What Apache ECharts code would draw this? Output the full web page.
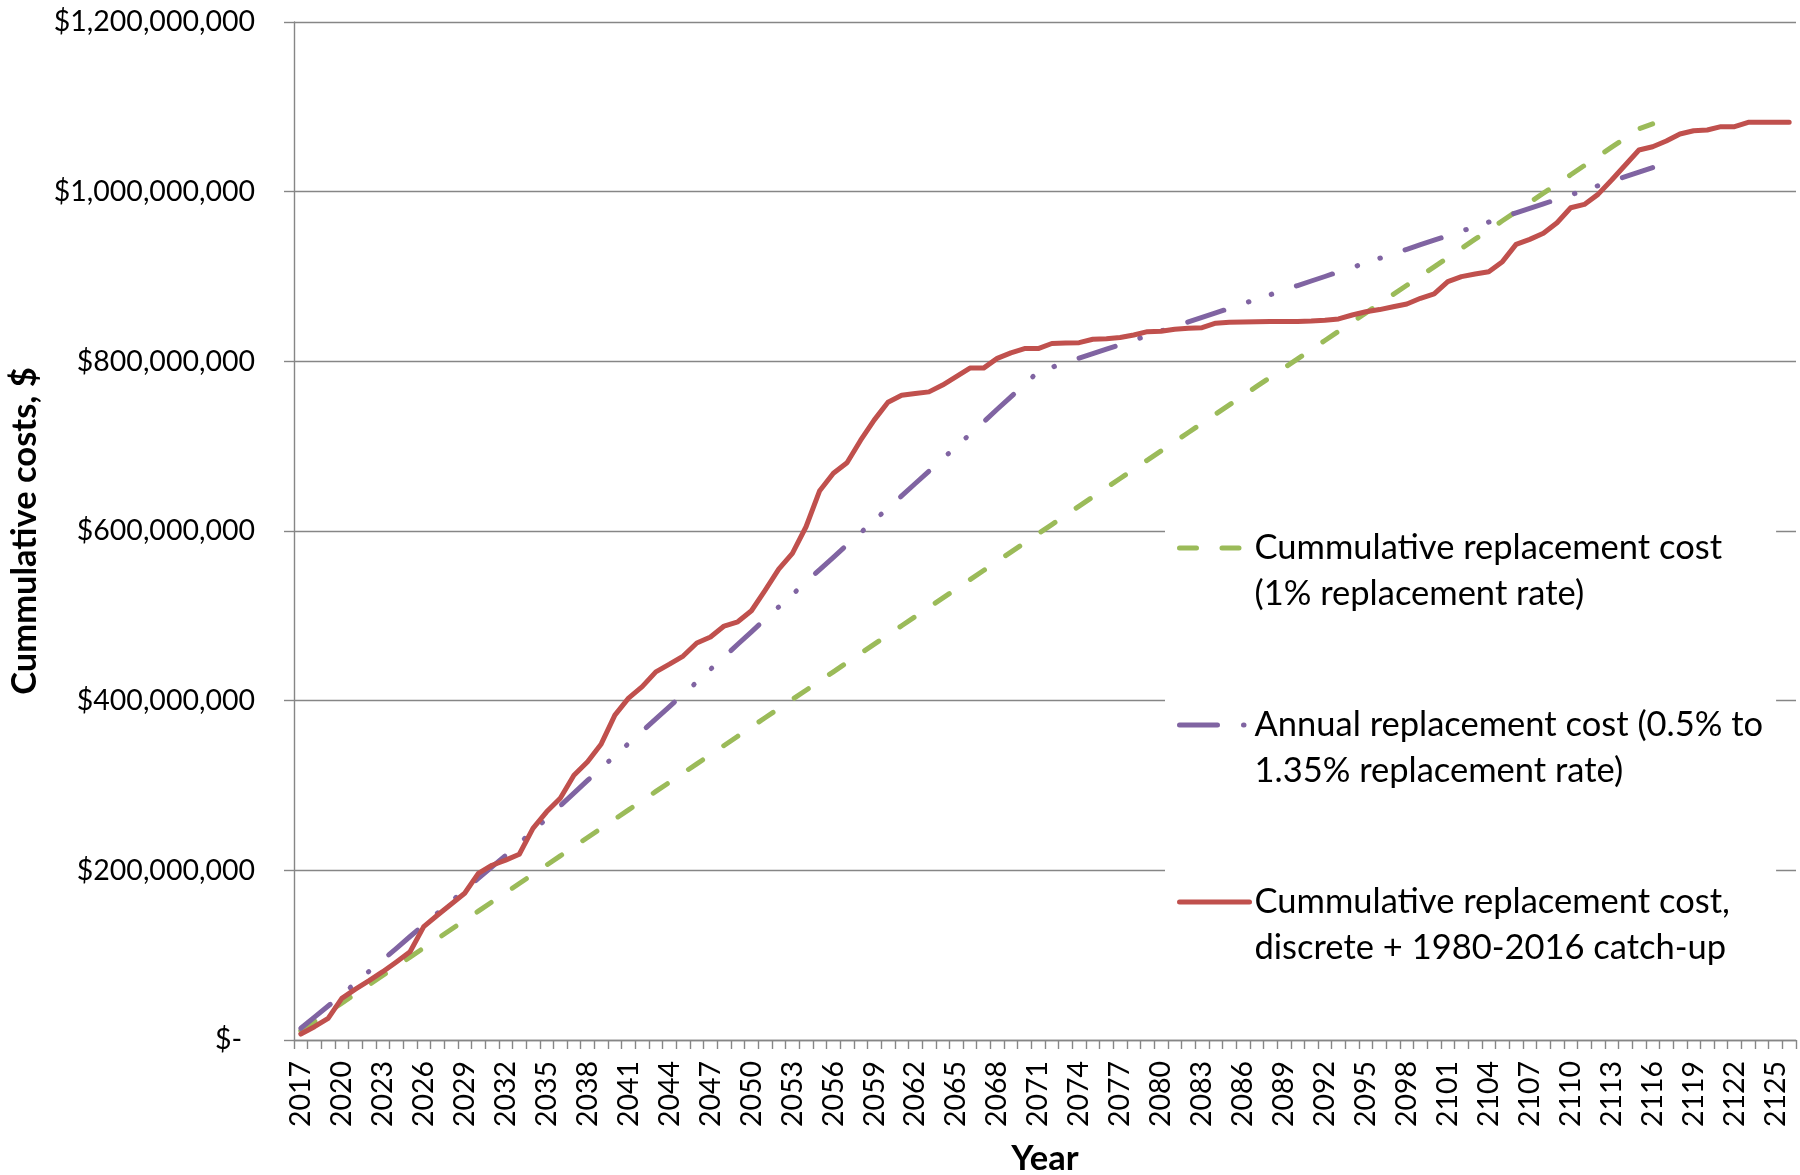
<!DOCTYPE html>
<html>
<head>
<meta charset="utf-8">
<script src="https://cdn.jsdelivr.net/npm/echarts@6/dist/echarts.min.js"></script>
<style>
  html, body { margin: 0; padding: 0; background: #fff; }
  #chart { width: 1800px; height: 1175px; }
</style>
</head>
<body>
<div id="chart"></div>
<script>
// Categories: years
const years = ['2017','2018','2019','2020','2021','2022','2023','2024','2025','2026',
  '2027','2028','2029','2030','2031','2032','2033','2034','2035','2036',
  '2037','2038','2039','2040','2041','2042','2043','2044','2045','2046',
  '2047','2048','2049','2050','2051','2052','2053','2054','2055','2056',
  '2057','2058','2059','2060','2061','2062','2063','2064','2065','2066',
  '2067','2068','2069','2070','2071','2072','2073','2074','2075','2076',
  '2077','2078','2079','2080','2081','2082','2083','2084','2085','2086',
  '2087','2088','2089','2090','2091','2092','2093','2094','2095','2096',
  '2097','2098','2099','2100','2101','2102','2103','2104','2105','2106',
  '2107','2108','2109','2110','2111','2112','2113','2114','2115','2116',
  '2117','2118','2119','2120','2121','2122','2123','2124','2125','2126'];

// Series names (legend text, two lines each)
const seriesNames = [
  'Cummulative replacement cost\n(1% replacement rate)',
  'Annual replacement cost (0.5% to\n1.35% replacement rate)',
  'Cummulative replacement cost,\ndiscrete + 1980-2016 catch-up'
];

// Values in millions of dollars
// Cummulative replacement cost (1% replacement rate), 2017-2116
const greenVals = [10.9,21.7,32.6,43.4,54.3,65.1,76.0,86.8,97.7,108.5,
  119.4,130.2,141.1,151.9,162.8,173.6,184.5,195.3,206.2,217.0,
  227.9,238.7,249.6,260.4,271.3,282.1,293.0,303.8,314.7,325.5,
  336.4,347.2,358.1,368.9,379.8,390.6,401.5,412.3,423.2,434.0,
  444.9,455.7,466.6,477.4,488.3,499.1,510.0,520.8,531.7,542.5,
  553.4,564.2,575.1,585.9,596.8,607.6,618.5,629.3,640.2,651.0,
  661.9,672.7,683.6,694.4,705.3,716.1,727.0,737.8,748.7,759.5,
  770.4,781.2,792.1,802.9,813.8,824.6,835.5,846.3,857.2,868.0,
  878.9,889.7,900.6,911.4,922.3,933.1,944.0,954.8,965.7,976.5,
  987.4,998.2,1009.1,1019.9,1030.8,1041.6,1052.5,1063.3,1074.2,1080.0];

// Annual replacement cost (0.5% to 1.35% replacement rate), 2017-2116
const purpleVals = [13.8,27,40,53.5,67,81,94.5,108,122,135.7,
  149.5,163,177,190.5,204,217.6,232,246,261,276,
  291,306,320.5,335,349.5,364,378.5,393,407.5,422,
  437,451.5,466.5,481,496,510.5,525,540,554.5,569,
  583.5,598,612.5,627,641.5,656,670.5,685,699.5,714,
  728.5,743.5,758,773,787.6,793,798.3,803.7,809,814.4,
  819.7,825,830.4,835.8,841,846.5,851.8,857,862.5,868,
  873.3,878.6,884,889.3,894.7,900,905.4,910.7,916,921.4,
  926.8,932,937.5,942.8,948,953.5,958.9,964.2,969.5,975,
  980.3,985.6,991,996.3,1001.6,1007,1012.4,1017.7,1023,1028.4];

// Cummulative replacement cost, discrete + 1980-2016 catch-up, 2017-2126
const redVals = [7,15.7,25.5,49,60,70,80.5,92,104,133.6,
  147,160,173,196.5,206,212,219,249.5,269,285,
  312,328,349,383,403,416.5,434,443,452.6,468,
  475,488,493,506,530,555,573.6,605,647.5,668,
  680.5,707,731,751.7,760,762,764,772,782,792,
  792,803.5,810,815,815,821,821.5,822,826,826.5,
  828,831,835,835.5,837.8,839,839.7,845,846,846.3,
  846.7,847,847,847,847.5,848.5,850,854.6,858.5,861,
  864.4,867.6,874.3,879.4,893.9,899.8,903,905.7,917.5,937.9,
  943.8,950.9,963.4,981,985,996.8,1013.7,1031.4,1049.1,1053,
  1059.7,1068,1071.8,1072.7,1076.6,1076.6,1081.7,1081.7,1081.7,1081.7];

// Y axis scale (millions)
const yMin = 0, yMax = 1200, yStep = 200;

const colors = ['#9BBB59', '#8064A2', '#C0504D'];
const LW = 5;
const dashes = [[17, 25.5], [38, 26, 0.5, 23.5, 0.5, 26], 'solid'];
const FONT = 'Lato, "Liberation Sans", sans-serif';
const GRAY = '#868686';

function fmtDollars(v) {
  if (v === 0) return '{z|$-}';
  return '$' + String(Math.round(v * 1000000)).replace(/\B(?=(\d{3})+(?!\d))/g, ',');
}

const chart = echarts.init(document.getElementById('chart'), null, { renderer: 'canvas' });
const option = {
  animation: false,
  backgroundColor: '#ffffff',
  textStyle: { fontFamily: FONT, color: '#000' },
  grid: { left: 294, right: 4, top: 22, bottom: 135, containLabel: false, outerBoundsMode: 'none' },
  xAxis: {
    type: 'category',
    data: years,
    boundaryGap: true,
    axisLine: { show: true, lineStyle: { color: GRAY, width: 1.4 } },
    axisTick: { show: true, interval: 0, length: 9, lineStyle: { color: GRAY, width: 1.4 } },
    axisLabel: { interval: 2, rotate: 90, margin: 21, fontSize: 28.5, color: '#000', fontFamily: FONT },
    splitLine: { show: false },
    name: 'Year',
    nameLocation: 'middle',
    nameGap: 101,
    nameTextStyle: { fontSize: 34.5, fontWeight: 'bold', color: '#000', fontFamily: FONT }
  },
  yAxis: {
    type: 'value',
    min: yMin, max: yMax, interval: yStep,
    axisLine: { show: true, lineStyle: { color: GRAY, width: 1.4 } },
    axisTick: { show: true, length: 10, lineStyle: { color: GRAY, width: 1.4 } },
    splitLine: { show: true, lineStyle: { color: GRAY, width: 1.4 } },
    axisLabel: {
      margin: 39, fontSize: 28.5, color: '#000', fontFamily: FONT,
      formatter: fmtDollars,
      rich: { z: { padding: [0, 13, 0, 0], fontSize: 28.5, fontFamily: FONT, color: '#000' } }
    },
    name: 'Cummulative costs, $',
    nameLocation: 'middle',
    nameGap: 243,
    nameTextStyle: { fontSize: 34.5, fontWeight: 'bold', color: '#000', fontFamily: FONT }
  },
  legend: {
    orient: 'vertical',
    left: 1165,
    top: 465,
    padding: [14, 13, 10, 12],
    backgroundColor: '#ffffff',
    itemWidth: 70,
    itemHeight: 14,
    itemGap: 39,
    selectedMode: false,
    itemStyle: { opacity: 0 },
    formatter: function (name) { return '\n' + name; },
    textStyle: { fontSize: 34.5, lineHeight: 46, color: '#000', fontFamily: FONT },
    data: seriesNames.map((n, i) => ({
      name: n,
      itemStyle: { opacity: 0 },
      lineStyle: { color: colors[i], width: LW, type: dashes[i], cap: 'round', opacity: 1 }
    }))
  },
  series: [
    { type: 'line', name: seriesNames[0], data: greenVals, symbol: 'none', z: 2,
      itemStyle: { color: colors[0] },
      lineStyle: { color: colors[0], width: LW, type: dashes[0], cap: 'round', join: 'round' } },
    { type: 'line', name: seriesNames[1], data: purpleVals, symbol: 'none', z: 3,
      itemStyle: { color: colors[1] },
      lineStyle: { color: colors[1], width: LW, type: dashes[1], cap: 'round', join: 'round' } },
    { type: 'line', name: seriesNames[2], data: redVals, symbol: 'none', z: 4,
      itemStyle: { color: colors[2] },
      lineStyle: { color: colors[2], width: LW, type: dashes[2], cap: 'round', join: 'round' } }
  ]
};
chart.setOption(option);
</script>
</body>
</html>
